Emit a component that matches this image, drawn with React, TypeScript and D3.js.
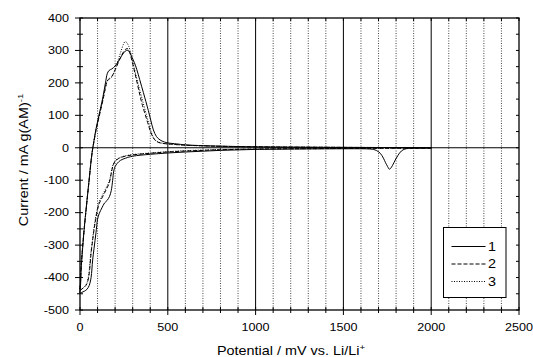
import React from "react";
import * as d3 from "d3";

// potential (mV) vs current (mA g^-1), cathodic sweep 2000 -> 0, anodic 0 -> 2000
const cath1: [number, number][] = [
  [2000, -1], [1900, -1.5], [1870, -2], [1850, -4], [1830, -10], [1810, -24], [1795, -38],
  [1780, -54], [1768, -64], [1761, -66], [1752, -58], [1740, -46], [1728, -32], [1710, -17],
  [1690, -9], [1670, -5], [1640, -3.5], [1500, -3], [1300, -3.5], [1100, -4.5], [1000, -5],
  [900, -6.5], [800, -8], [700, -10.5], [600, -13], [500, -16], [400, -20], [300, -26],
  [260, -32], [230, -39], [212, -48], [200, -58], [192, -72], [186, -100], [178, -132],
  [168, -150], [155, -162], [140, -170], [125, -185], [110, -202], [100, -220], [91, -262],
  [80, -310], [72, -346], [63, -400], [52, -425], [40, -436], [25, -442], [10, -446], [0, -448],
];
const anod1: [number, number][] = [
  [0, -448], [3, -425], [6, -380], [15, -310], [25, -243], [35, -188], [44, -140], [54, -88],
  [63, -40], [70, -10], [76, 10], [90, 55], [103, 88], [117, 122], [131, 158], [145, 200],
  [155, 228], [165, 238], [181, 243], [200, 252], [220, 268], [240, 286], [258, 298],
  [268, 301], [280, 297], [295, 280], [310, 262], [323, 242], [340, 210], [361, 170],
  [375, 143], [389, 115], [403, 85], [418, 55], [435, 35], [456, 24], [480, 18], [500, 15],
  [550, 12], [600, 9], [700, 6.5], [800, 5], [1000, 3], [1200, 2], [1500, 1.2], [1800, 0.7],
  [2000, 0.5],
];
const cath2: [number, number][] = [
  [2000, -1], [1800, -1.5], [1600, -2], [1400, -2.5], [1200, -3], [1000, -4], [800, -6],
  [700, -8], [600, -10], [500, -13], [400, -17], [300, -22], [250, -27], [220, -33],
  [200, -42], [190, -52], [182, -68], [175, -88], [167, -108], [152, -126], [139, -140],
  [122, -158], [110, -171], [100, -190], [90, -220], [82, -245], [72, -285], [63, -325],
  [53, -385], [44, -412], [34, -424], [20, -431], [8, -437], [0, -440],
];
const anod2: [number, number][] = [
  [0, -440], [3, -415], [6, -370], [15, -305], [25, -245], [35, -190], [44, -142], [54, -90],
  [63, -42], [70, -12], [76, 8], [90, 50], [103, 82], [117, 115], [131, 148], [145, 185],
  [155, 206], [168, 214], [181, 220], [200, 240], [220, 265], [240, 288], [258, 303],
  [270, 306], [280, 298], [295, 270], [313, 230], [328, 194], [342, 160], [356, 130],
  [370, 105], [385, 78], [400, 52], [415, 33], [430, 22], [450, 16], [480, 13], [520, 11],
  [600, 8], [700, 6], [800, 4.5], [1000, 3], [1200, 2], [1500, 1.2], [1800, 0.7], [2000, 0.5],
];
const cath3: [number, number][] = [
  [2000, -1], [1800, -1.5], [1600, -2], [1400, -2.5], [1200, -3], [1000, -4], [800, -5.5],
  [700, -7], [600, -9], [500, -12], [400, -16], [300, -21], [250, -26], [220, -32],
  [200, -40], [190, -50], [182, -64], [175, -84], [167, -102], [152, -120], [139, -134],
  [122, -152], [110, -166], [100, -185], [90, -212], [80, -245], [70, -290], [60, -335],
  [50, -390], [40, -416], [30, -426], [18, -432], [8, -436], [0, -438],
];
const anod3: [number, number][] = [
  [0, -438], [3, -412], [6, -368], [15, -302], [25, -242], [35, -188], [44, -140], [54, -88],
  [63, -40], [70, -10], [76, 10], [90, 52], [103, 84], [117, 118], [131, 150], [145, 186],
  [155, 205], [168, 212], [181, 218], [200, 242], [220, 275], [235, 300], [248, 320],
  [256, 327], [265, 325], [278, 312], [292, 285], [305, 255], [320, 220], [335, 188],
  [350, 158], [365, 128], [380, 98], [395, 68], [410, 42], [425, 26], [445, 18], [480, 13],
  [520, 11], [600, 8], [700, 6], [800, 4.5], [1000, 3], [1200, 2], [1500, 1.2], [1800, 0.7],
  [2000, 0.5],
];

const seriesNames = ["1", "2", "3"];
const xMajor = [0, 500, 1000, 1500, 2000, 2500];
const yMajor = [400, 300, 200, 100, 0, -100, -200, -300, -400, -500];

const W = 533, H = 357;
const m = { left: 80, right: 14, top: 18, bottom: 47 };
const SX = 1.2; // horizontal text stretch

export default function App() {
  const x = d3.scaleLinear().domain([0, 2500]).range([m.left, W - m.right]);
  const y = d3.scaleLinear().domain([-500, 400]).range([H - m.bottom, m.top]);
  const line = d3.line<[number, number]>()
    .x(d => x(d[0])).y(d => y(d[1]))
    .curve(d3.curveCatmullRom.alpha(0.5));

  const loops = [
    cath1.concat(anod1.slice(1)),
    cath2.concat(anod2.slice(1)),
    cath3.concat(anod3.slice(1)),
  ];
  const dashes = [null, "4,2", "1,1.5"];

  const minor100 = d3.range(0, 2501, 100);
  const y50 = d3.range(-500, 401, 50);
  const x0 = m.left, x1 = W - m.right, y0 = m.top, y1 = H - m.bottom;
  const font = "'Liberation Sans', Arial, sans-serif";

  const lg = { x: 443.5, y: 227.5, w: 62.5, h: 70 };

  return (
    <svg width={W} height={H} style={{ position: "absolute", left: 0, top: 0 }} fontFamily={font}>
      <rect width={W} height={H} fill="#fff" />
      {/* vertical grid */}
      {minor100.filter(v => v > 0 && v < 2500).map(v => (
        v % 500 === 0
          ? <line key={v} x1={x(v)} x2={x(v)} y1={y0} y2={y1} stroke="#000" strokeWidth={1} />
          : <line key={v} x1={x(v)} x2={x(v)} y1={y0} y2={y1} stroke="#333" strokeWidth={0.9} strokeDasharray="1,1.5" />
      ))}
      {/* zero line */}
      <line x1={x0} x2={x1} y1={y(0)} y2={y(0)} stroke="#000" strokeWidth={1.1} />

      {/* curves */}
      {loops.map((d, i) => (
        <path key={i} d={line(d) || ""} fill="none" stroke="#000" strokeWidth={1}
          strokeDasharray={dashes[i] || undefined} />
      ))}

      {/* frame */}
      <rect x={x0} y={y0} width={x1 - x0} height={y1 - y0} fill="none" stroke="#000" strokeWidth={1.3} />

      {/* bottom ticks */}
      {minor100.map(v => (
        <line key={"b" + v} x1={x(v)} x2={x(v)} y1={y1 - 3} y2={y1 + (v % 500 === 0 ? 5 : 3)} stroke="#000" strokeWidth={1} />
      ))}
      {/* top ticks */}
      {minor100.map(v => (
        <line key={"t" + v} x1={x(v)} x2={x(v)} y1={y0} y2={y0 + 3} stroke="#000" strokeWidth={1} />
      ))}
      {/* left ticks */}
      {y50.map(v => (
        <line key={"l" + v} x1={x0 - (v % 100 === 0 ? 5 : 3)} x2={x0 + 3} y1={y(v)} y2={y(v)} stroke="#000" strokeWidth={1} />
      ))}
      {/* right ticks */}
      {y50.map(v => (
        <line key={"r" + v} x1={x1 - 3} x2={x1} y1={y(v)} y2={y(v)} stroke="#000" strokeWidth={1} />
      ))}

      {/* tick labels */}
      {xMajor.map(v => (
        <text key={"xl" + v} transform={`translate(${x(v)},${y1 + 21}) scale(${SX},1)`}
          textAnchor="middle" fontSize={10.5} fill="#000">{v}</text>
      ))}
      {yMajor.map(v => (
        <text key={"yl" + v} transform={`translate(${x0 - 11},${y(v) + 3.8}) scale(${SX},1)`}
          textAnchor="end" fontSize={10.5} fill="#000">{v}</text>
      ))}

      {/* axis titles */}
      <text transform={`translate(291,${H - 2}) scale(${SX},1)`} textAnchor="middle" fontSize={12} fill="#000">
        Potential / mV vs. Li/Li<tspan dy={-5} fontSize={8}>+</tspan>
      </text>
      <text transform={`translate(28,160) rotate(-90) scale(${SX},1)`} textAnchor="middle" fontSize={12} fill="#000">
        Current / mA g(AM)<tspan dy={-5} fontSize={8}>-1</tspan>
      </text>

      {/* legend */}
      <rect x={lg.x} y={lg.y} width={lg.w} height={lg.h} fill="#fff" stroke="#000" strokeWidth={1} />
      {seriesNames.map((s, i) => {
        const yy = lg.y + 19 + i * 17.5;
        return (
          <g key={s}>
            <line x1={lg.x + 8} x2={lg.x + 42} y1={yy} y2={yy} stroke="#000" strokeWidth={1}
              strokeDasharray={dashes[i] || undefined} />
            <text transform={`translate(${lg.x + 44.5},${yy + 4.3}) scale(${SX},1)`} fontSize={12} fill="#000">{s}</text>
          </g>
        );
      })}
    </svg>
  );
}
